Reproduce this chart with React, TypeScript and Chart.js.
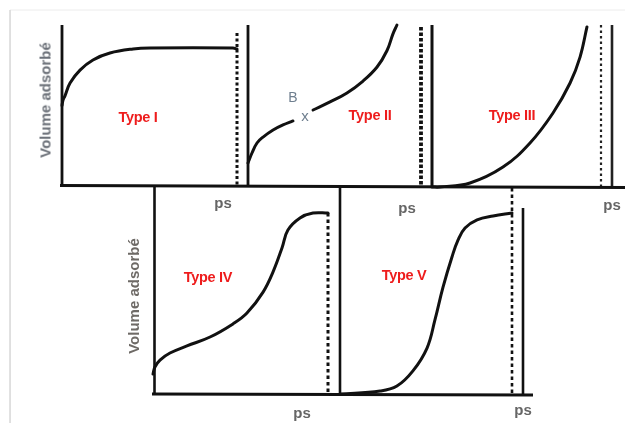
import React, { useEffect, useRef } from "react";
import { Chart, registerables } from "chart.js";

Chart.register(...registerables);

// ---- Data: relative pressure p/ps (0..1) and relative adsorbed volume (0..1) ----
const P_TYPE1 = [0, 0.006, 0.017, 0.046, 0.103, 0.177, 0.274, 0.406, 0.503, 0.977, 1.0];
const V_TYPE1 = [0.5, 0.534, 0.56, 0.64, 0.72, 0.783, 0.826, 0.851, 0.857, 0.857, 0.851];

const P_TYPE2 = [0, 0.023, 0.052, 0.087, 0.145, 0.202, 0.26, 0.318, 0.376, 0.474, 0.572, 0.665, 0.746, 0.803, 0.838, 0.861];
const V_TYPE2 = [0.143, 0.205, 0.267, 0.304, 0.348, 0.379, 0.404, null, 0.472, 0.522, 0.578, 0.652, 0.739, 0.84, 0.945, 1.0];

const P_TYPE3 = [0, 0.047, 0.225, 0.42, 0.58, 0.716, 0.817, 0.876, 0.917];
const V_TYPE3 = [0, 0, 0.025, 0.123, 0.272, 0.457, 0.642, 0.802, 0.988];

const P_TYPE4 = [0, 0.011, 0.04, 0.097, 0.194, 0.326, 0.457, 0.537, 0.629, 0.686, 0.737, 0.771, 0.84, 0.914, 1.0];
const V_TYPE4 = [0.096, 0.13, 0.163, 0.197, 0.231, 0.274, 0.337, 0.389, 0.49, 0.587, 0.702, 0.788, 0.846, 0.87, 0.87];

const P_TYPE5 = [0, 0.233, 0.331, 0.424, 0.506, 0.552, 0.599, 0.651, 0.686, 0.727, 0.797, 0.89, 1.0];
const V_TYPE5 = [0, 0.014, 0.038, 0.111, 0.221, 0.356, 0.514, 0.659, 0.74, 0.798, 0.837, 0.856, 0.87];

const TYPE_LABELS = ["Type I", "Type II", "Type III", "Type IV", "Type V"];
const Y_LABEL = "Volume adsorbé";
const X_LABEL = "ps";

// ---- Layout (figure units = pixels of the 625x423 figure) ----
const W = 625;
const H = 423;
type Frame = { x0: number; xs: number; y0: number; yTop: number };
const FRAMES: Frame[] = [
  { x0: 62, xs: 237, y0: 186, yTop: 25 },
  { x0: 248, xs: 421, y0: 186, yTop: 25 },
  { x0: 432, xs: 601, y0: 187, yTop: 25 },
  { x0: 153, xs: 328, y0: 394, yTop: 186 },
  { x0: 340, xs: 512, y0: 394, yTop: 186 },
];

const toFig = (f: Frame, p: number, v: number | null) => ({
  x: f.x0 + p * (f.xs - f.x0),
  y: v === null ? null : f.y0 - v * (f.y0 - f.yTop),
});

// structural lines: [x1, y1, x2, y2, width, dash, color]
type Seg = [number, number, number, number, number, number[], string];
const SEGMENTS: Seg[] = [
  [10, 10, 10, 423, 1, [], "#dcdcdc"],
  [10, 10, 625, 10, 1, [], "#ececec"],
  [60, 185.5, 625, 187.5, 3, [], "#111"],
  [62, 25, 62, 186, 2.8, [], "#111"],
  [237, 33, 237, 186, 3, [3, 2.5], "#111"],
  [248, 25, 248, 186, 2.8, [], "#111"],
  [421, 27, 421, 186, 3.8, [3.5, 2], "#111"],
  [432, 25, 432, 187, 3, [], "#111"],
  [601, 25, 601, 187, 2.2, [2.5, 3], "#222"],
  [612, 25, 612, 187, 2.6, [], "#222"],
  [154.5, 186, 154.5, 394, 2.6, [], "#111"],
  [152, 394, 533, 395, 3, [], "#111"],
  [328, 213, 328, 394, 3, [3.5, 3], "#111"],
  [340, 186, 340, 394, 2.6, [], "#111"],
  [512, 188, 512, 394, 2.6, [3.5, 3], "#111"],
  [523, 208, 523, 394, 2.6, [], "#111"],
];

const CURVES = [
  [P_TYPE1, V_TYPE1],
  [P_TYPE2, V_TYPE2],
  [P_TYPE3, V_TYPE3],
  [P_TYPE4, V_TYPE4],
  [P_TYPE5, V_TYPE5],
] as const;

type Txt = { text: string; x: number; y: number; size: number; color: string; bold: boolean; rot?: boolean };
const TEXTS: Txt[] = [
  { text: Y_LABEL, x: 45, y: 100, size: 15, color: "#6b7078", bold: true, rot: true },
  { text: Y_LABEL, x: 133, y: 296, size: 15, color: "#6e6a66", bold: true, rot: true },
  { text: TYPE_LABELS[0], x: 138, y: 117, size: 14.5, color: "#ee1c1c", bold: true },
  { text: TYPE_LABELS[1], x: 370, y: 115, size: 14.5, color: "#ee1c1c", bold: true },
  { text: TYPE_LABELS[2], x: 512, y: 115, size: 14.5, color: "#ee1c1c", bold: true },
  { text: TYPE_LABELS[3], x: 208, y: 277, size: 14.5, color: "#ee1c1c", bold: true },
  { text: TYPE_LABELS[4], x: 404, y: 275, size: 14.5, color: "#ee1c1c", bold: true },
  { text: X_LABEL, x: 223, y: 202, size: 15, color: "#666", bold: true },
  { text: X_LABEL, x: 407, y: 207, size: 15, color: "#666", bold: true },
  { text: X_LABEL, x: 612, y: 204, size: 15, color: "#666", bold: true },
  { text: X_LABEL, x: 302, y: 412, size: 15, color: "#666", bold: true },
  { text: X_LABEL, x: 523, y: 409, size: 15, color: "#666", bold: true },
  { text: "B", x: 293, y: 97, size: 14, color: "#6f7f8f", bold: false },
  { text: "x", x: 305, y: 115, size: 15, color: "#6f7f8f", bold: false },
];

export default function App() {
  const ref = useRef<HTMLCanvasElement | null>(null);

  useEffect(() => {
    if (!ref.current) return;
    const datasets: any[] = [];
    SEGMENTS.forEach(([x1, y1, x2, y2, w, dash, color]) => {
      datasets.push({
        data: [
          { x: x1, y: y1 },
          { x: x2, y: y2 },
        ],
        borderColor: color,
        borderWidth: w,
        borderDash: dash,
        pointRadius: 0,
        tension: 0,
        fill: false,
      });
    });
    CURVES.forEach(([ps, vs], i) => {
      const f = FRAMES[i];
      datasets.push({
        data: ps.map((p, k) => toFig(f, p, vs[k] as number | null)),
        borderColor: "#111",
        borderWidth: 3,
        pointRadius: 0,
        tension: 0.4,
        spanGaps: false,
        fill: false,
        borderCapStyle: "round",
        borderJoinStyle: "round",
      });
    });

    const chart = new Chart(ref.current, {
      type: "line",
      data: { datasets },
      options: {
        animation: false,
        responsive: false,
        maintainAspectRatio: false,
        layout: { padding: 0 },
        parsing: false as any,
        plugins: { legend: { display: false }, tooltip: { enabled: false } },
        scales: {
          x: { type: "linear", min: 0, max: W, display: false },
          y: { type: "linear", min: 0, max: H, reverse: true, display: false },
        },
      },
    });
    return () => chart.destroy();
  }, []);

  return (
    <div style={{ position: "absolute", left: 0, top: 0, width: W, height: H, background: "#fff", overflow: "hidden" }}>
      <canvas ref={ref} width={W} height={H} style={{ position: "absolute", left: 0, top: 0, width: W, height: H }} />
      {TEXTS.map((t, i) => (
        <div
          key={i}
          style={{
            position: "absolute",
            left: t.x,
            top: t.y,
            transform: `translate(-50%, -50%)${t.rot ? " rotate(-90deg)" : ""}`,
            fontFamily: "'Liberation Sans', Arial, sans-serif",
            fontSize: t.size,
            fontWeight: t.bold ? 700 : 400,
            color: t.color,
            whiteSpace: "nowrap",
            lineHeight: 1,
            letterSpacing: t.bold && !t.rot && t.color === "#ee1c1c" ? -0.3 : 0,
          }}
        >
          {t.text}
        </div>
      ))}
    </div>
  );
}
